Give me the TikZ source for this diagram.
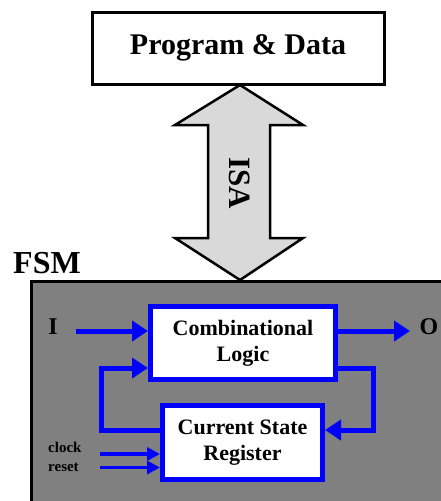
\documentclass[tikz,border=0pt]{standalone}
\usepackage{fontspec}
\setmainfont{Liberation Serif}
\usetikzlibrary{arrows.meta}
\definecolor{fsmgray}{HTML}{808080}
\definecolor{busgray}{HTML}{D9D9D9}
\definecolor{wireblue}{HTML}{0000FF}
\begin{document}
\begin{tikzpicture}[x=1pt,y=-1pt,
  txt/.style={font=\bfseries\fontsize{#1}{#1}\selectfont, inner sep=0pt},
  blockbox/.style={draw=wireblue, line width=5pt, fill=white, align=center,
    font=\bfseries\fontsize{22}{26}\selectfont, inner sep=0pt},
  wire/.style={draw=wireblue, line width=5pt, line join=miter,
    -{Triangle[length=16pt,width=20pt]}},
  thinwire/.style={draw=wireblue, line width=3.5pt,
    -{Triangle[length=13pt,width=13pt]}}]
\useasboundingbox (0,0) rectangle (441,501);

% memory block
\node[draw, line width=3pt, fill=white, minimum width=292pt, minimum height=72pt,
  inner sep=0pt, font=\bfseries\fontsize{30}{30}\selectfont] (prog) at (238,48) {Program \& Data};

% FSM enclosure
\node[draw, line width=3pt, fill=fsmgray, minimum width=440pt, minimum height=260pt,
  inner sep=0pt] (fsm) at (251,411) {};
\node[txt=32] (fsmlabel) at (47,263) {FSM};

% ISA double arrow between memory and FSM
\coordinate (bustop) at (240,85);
\coordinate (busbot) at (240,280);
\draw[line width=2.5pt, line join=miter, fill=busgray]
  (bustop) -- (303,125) -- (270,125) -- (270,238) -- (303,238) -- (busbot)
  -- (175,238) -- (208,238) -- (208,125) -- (175,125) -- cycle;
\node[txt=31, rotate=-90] (isa) at (240,183) {ISA};

% logic blocks
\node[blockbox, minimum width=185pt, minimum height=73pt] (comb) at (243,343)
  {Combinational\\Logic};
\node[blockbox, minimum width=160pt, minimum height=74pt] (csr) at (242.5,442.5)
  {Current State\\Register};

% ports
\node[txt=24] (in) at (53,327) {I};
\node[txt=24] (out) at (429,327) {O};
\node[txt=15, anchor=west] (clk) at (48,447) {clock};
\node[txt=15, anchor=west] (rst) at (48,467) {reset};

\coordinate (inbeg) at (76,331);
\coordinate (outend) at (410,331);
\coordinate (clkbeg) at (100,454);
\coordinate (rstbeg) at (100,467.5);

% data wires
\draw[wire] (inbeg) -- (inbeg -| comb.west);
\draw[wire] (comb.east |- outend) -- (outend);
\draw[wire] (comb.east |- 0,368) -- (373,368) -- (373,430) -- (csr.east |- 0,430);
\draw[wire] (csr.west |- 0,430) -- (101.5,430) -- (101.5,368) -- (comb.west |- 0,368);

% clock and reset
\draw[thinwire] (clkbeg) -- (clkbeg -| csr.west);
\draw[thinwire] (rstbeg) -- (rstbeg -| csr.west);
\end{tikzpicture}
\end{document}
